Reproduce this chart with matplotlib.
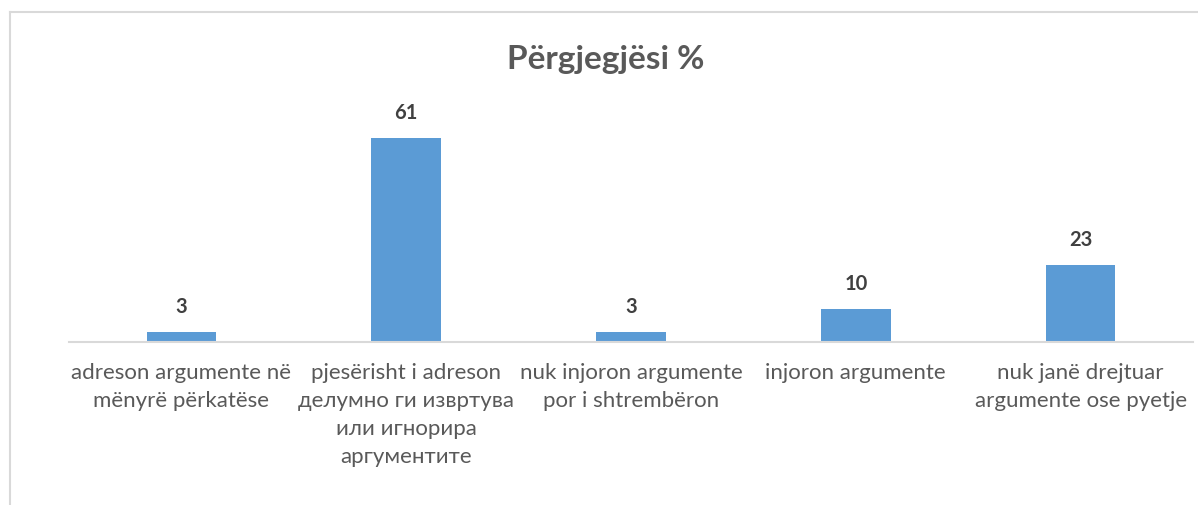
import numpy as np
import matplotlib
matplotlib.use("Agg")
import matplotlib.pyplot as plt
from matplotlib.lines import Line2D

# data
categories = [
    "adreson argumente në\nmënyrë përkatëse",
    "pjesërisht i adreson\nделумно ги извртува\nили игнорира\nаргументите",
    "nuk injoron argumente\npor i shtrembëron",
    "injoron argumente",
    "nuk janë drejtuar\nargumente ose pyetje",
]
values = [3, 61, 3, 10, 23]
title = "Përgjegjësi %"

W, H = 1198, 505
plt.rcParams['font.family'] = ['Lato', 'DejaVu Sans']
fig = plt.figure(figsize=(W / 100, H / 100), dpi=100)

# chart border (only top and left visible in crop)
fig.add_artist(Line2D([10 / W, 10 / W], [0, 1 - 12 / H], transform=fig.transFigure,
                      color="#d9d9d9", lw=1.5))
fig.add_artist(Line2D([10 / W, 1], [1 - 12 / H, 1 - 12 / H], transform=fig.transFigure,
                      color="#d9d9d9", lw=1.5))

x0, x1, ybase, ytop = 69, 1193, 342, 108
ax = fig.add_axes([x0 / W, (H - ybase) / H, (x1 - x0) / W, (ybase - ytop) / H])

x = np.arange(len(values))
bars = ax.bar(x, values, width=0.31, color="#5b9bd5")
ax.set_xlim(-0.5, len(values) - 0.5)
ax.set_ylim(0, 70)

for b, v in zip(bars, values):
    ax.annotate(str(v), (b.get_x() + b.get_width() / 2, v), xytext=(0, 18),
                textcoords="offset points", ha="center", va="center",
                fontsize=14.5, fontweight="bold", color="#404040")

for s in ["top", "right", "left"]:
    ax.spines[s].set_visible(False)
ax.spines["bottom"].set_color("#d9d9d9")
ax.spines["bottom"].set_linewidth(1.5)
ax.set_yticks([])
ax.set_xticks(x)
ax.set_xticklabels(categories, fontsize=16, color="#595959", linespacing=1.5)
ax.tick_params(axis="x", length=0, pad=15)
for lbl in ax.get_xticklabels():
    lbl.set_verticalalignment("top")

fig.text(606 / W, 1 - 60 / H, title, ha="center", va="center",
         fontsize=24, fontweight="bold", color="#595959")

fig.savefig("out.png", dpi=100)
